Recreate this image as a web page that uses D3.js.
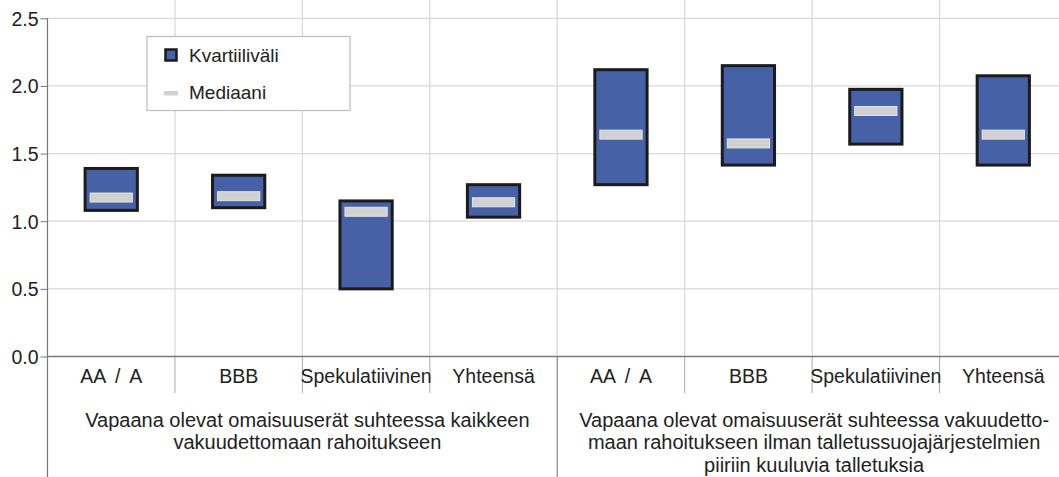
<!DOCTYPE html>
<html>
<head>
<meta charset="utf-8">
<script src="https://cdn.jsdelivr.net/npm/d3@7"></script>
<style>
  body { margin: 0; background: #fff; }
  text { font-family: "Liberation Sans", Arial, sans-serif; fill: #222; }
</style>
</head>
<body>
<div id="main"></div>
<script>
const Width = 1059, Height = 477;

// data
const categories = ["AA / A", "BBB", "Spekulatiivinen", "Yhteensä"];
const groups = [
    ["Vapaana olevat omaisuuserät suhteessa kaikkeen", "vakuudettomaan rahoitukseen"],
    ["Vapaana olevat omaisuuserät suhteessa vakuudetto-", "maan rahoitukseen ilman talletussuojajärjestelmien", "piiriin kuuluvia talletuksia"]
];
const q1 = [1.08, 1.10, 0.50, 1.03, 1.27, 1.415, 1.57, 1.415];
const q3 = [1.39, 1.34, 1.15, 1.27, 2.12, 2.15, 1.975, 2.075];
const median = [1.175, 1.185, 1.07, 1.14, 1.64, 1.575, 1.815, 1.64];
const yTicks = [0, 0.5, 1.0, 1.5, 2.0, 2.5];

const margin = {left: 47.5, top: 18.3, right: 1067, bottom: 356.5};

const svg = d3.select("#main")
    .append("svg")
    .attr("width", Width)
    .attr("height", Height);

const keys = d3.range(q1.length);
let Xscale = d3.scaleBand().domain(keys).range([margin.left, margin.right]);
let Yscale = d3.scaleLinear().domain([0, 2.5]).range([margin.bottom, margin.top]);
const bw = Xscale.bandwidth();

// horizontal grid
svg.append("g").selectAll("line").data(yTicks.slice(1)).enter().append("line")
    .attr("x1", margin.left).attr("x2", Width)
    .attr("y1", d => Yscale(d)).attr("y2", d => Yscale(d))
    .attr("stroke", "#d9d9d9").attr("stroke-width", 1.3);

// vertical separators
const seps = keys.slice(1);
svg.append("g").selectAll("line").data(seps).enter().append("line")
    .attr("x1", i => Xscale(i)).attr("x2", i => Xscale(i))
    .attr("y1", 0).attr("y2", margin.bottom)
    .attr("stroke", "#d9d9d9").attr("stroke-width", 1.3);
svg.append("g").selectAll("line").data(seps.filter(i => i !== 4)).enter().append("line")
    .attr("x1", i => Xscale(i)).attr("x2", i => Xscale(i))
    .attr("y1", margin.bottom).attr("y2", 393)
    .attr("stroke", "#a8a8a8").attr("stroke-width", 1);
svg.append("line")
    .attr("x1", Xscale(4)).attr("x2", Xscale(4))
    .attr("y1", margin.bottom).attr("y2", Height)
    .attr("stroke", "#8a8a8a").attr("stroke-width", 1.2);

// legend (over the grid)
const lg = svg.append("g");
lg.append("rect").attr("x", 147).attr("y", 36.5).attr("width", 203).attr("height", 74)
    .attr("fill", "#fff").attr("stroke", "#bdbdbd").attr("stroke-width", 1.2);
lg.append("rect").attr("x", 165.5).attr("y", 49.5).attr("width", 11).attr("height", 11)
    .attr("fill", "#4761a6").attr("stroke", "#1b1b1b").attr("stroke-width", 2.5);
lg.append("text").attr("x", 189).attr("y", 62).style("font-size", "19px").text("Kvartiiliväli");
lg.append("rect").attr("x", 164).attr("y", 91).attr("width", 14).attr("height", 4.5)
    .attr("fill", "#d1d1d1");
lg.append("text").attr("x", 189).attr("y", 99).style("font-size", "19px").text("Mediaani");

// y axis
const yAxis = svg.append("g")
    .attr("transform", `translate(${margin.left},0)`)
    .call(d3.axisLeft(Yscale).tickValues(yTicks).tickFormat(d3.format(".1f")).tickSize(7).tickPadding(2));
yAxis.select(".domain").remove();
yAxis.selectAll(".tick line").attr("stroke", "#777");
yAxis.selectAll(".tick text").style("font-size", "19.5px").attr("fill", "#222").attr("dy", "0.36em");
svg.append("line")
    .attr("x1", margin.left).attr("x2", margin.left)
    .attr("y1", margin.top).attr("y2", Height)
    .attr("stroke", "#777").attr("stroke-width", 1.2);
// zero line
svg.append("line")
    .attr("x1", margin.left).attr("x2", Width)
    .attr("y1", Yscale(0)).attr("y2", Yscale(0))
    .attr("stroke", "#7a7a7a").attr("stroke-width", 1.3);

// boxes
const boxW = bw * 0.41;
svg.append("g").selectAll("rect").data(keys).enter().append("rect")
    .attr("x", i => Xscale(i) + bw / 2 - boxW / 2)
    .attr("y", i => Yscale(q3[i]))
    .attr("width", boxW)
    .attr("height", i => Yscale(q1[i]) - Yscale(q3[i]))
    .attr("fill", "#4761a6")
    .attr("stroke", "#1b1b1b").attr("stroke-width", 3);

const medW = boxW - 10;
svg.append("g").selectAll("rect").data(keys).enter().append("rect")
    .attr("x", i => Xscale(i) + bw / 2 - medW / 2)
    .attr("y", i => Yscale(median[i]) - 4.5)
    .attr("width", medW).attr("height", 9)
    .attr("fill", "#d1d1d1")
    .attr("stroke", "#e4e4e4").attr("stroke-width", 1);

// category labels
svg.append("g").selectAll("text").data(keys).enter().append("text")
    .attr("x", i => Xscale(i) + bw / 2)
    .attr("y", 383)
    .attr("text-anchor", "middle")
    .style("font-size", "19.5px")
    .style("word-spacing", "4.5px")
    .text(i => categories[i % 4]);

// group labels
groups.forEach(function (lines, g) {
    const cx = (Xscale(g * 4) + Xscale(g * 4 + 3) + bw) / 2 + (g === 0 ? 5 : 2);
    svg.append("g").selectAll("text").data(lines).enter().append("text")
        .attr("x", cx)
        .attr("y", (d, j) => 426.5 + j * 22.7)
        .attr("text-anchor", "middle")
        .style("font-size", "20px")
        .text(d => d);
});
</script>
</body>
</html>
